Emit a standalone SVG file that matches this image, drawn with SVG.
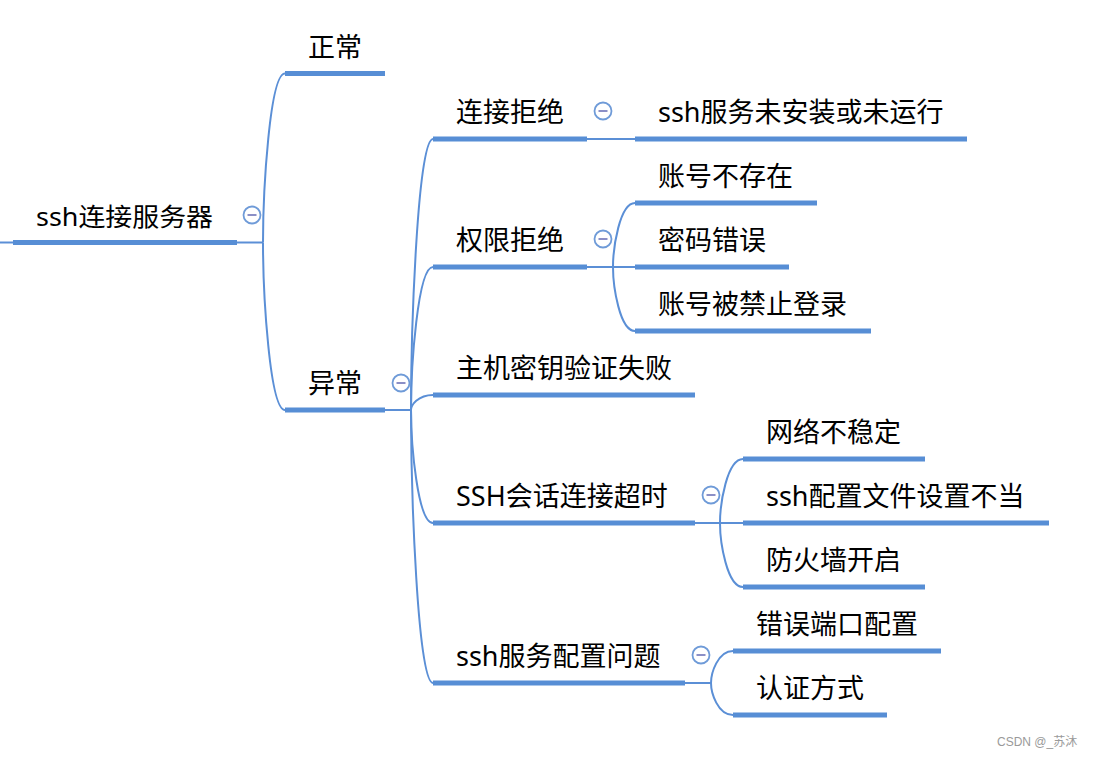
<svg xmlns="http://www.w3.org/2000/svg" width="1093" height="757" viewBox="0 0 1093 757">
<style>
.ul{stroke:#578ed5;stroke-width:5;fill:none}
.cn{stroke:#5b8fd6;stroke-width:2;fill:none}
.t{font-family:"Noto Sans","Noto Sans CJK SC",sans-serif;font-size:27px;fill:#000}
.ic circle{fill:#fff;stroke:#6f9bd8;stroke-width:1.8}
.ic line{stroke:#8b8fc6;stroke-width:2}
.wm{font-family:"Liberation Sans","Noto Sans CJK SC",sans-serif;font-size:12px;fill:#9a9a9a}
</style>
<defs>
<g id="minus" class="ic"><circle cx="0" cy="0" r="8.5"/><line x1="-4.5" y1="0" x2="4.5" y2="0"/></g>
</defs>
<rect width="1093" height="757" fill="#fff"/>
<g id="connectors">
<path class="cn" d="M0,242.5 H13"/>
<path class="cn" d="M237,242.5 H263"/>
<path class="cn" d="M263,242.5 C263,192 269.6,73.5 285,73.5"/>
<path class="cn" d="M263,242.5 C263,293 269.6,410 285,410"/>
<path class="cn" d="M385,410 H411"/>
<path class="cn" d="M411,410 C411,329 417.6,139 433,139"/>
<path class="cn" d="M411,410 C411,367 417.6,267 433,267"/>
<path class="cn" d="M411,410 C411,405.5 417.6,395 433,395"/>
<path class="cn" d="M411,410 C411,444 417.6,523 433,523"/>
<path class="cn" d="M411,410 C411,492 417.6,683 433,683"/>
<path class="cn" d="M587,139 H635"/>
<path class="cn" d="M587,267 H635"/>
<path class="cn" d="M613,267 C613,248 619.6,203 635,203"/>
<path class="cn" d="M613,267 C613,286 619.6,331 635,331"/>
<path class="cn" d="M695,523 H743"/>
<path class="cn" d="M720,523 C720,504 726.9,459 743,459"/>
<path class="cn" d="M720,523 C720,542 726.9,587 743,587"/>
<path class="cn" d="M685,683 H711"/>
<path class="cn" d="M711,683 C711,673.4 717.6,651 733,651"/>
<path class="cn" d="M711,683 C711,692.6 717.6,715 733,715"/>
</g>
<g id="root"><line class="ul" x1="13" y1="242.5" x2="237" y2="242.5"/><text class="t" x="36" y="226" textLength="177" lengthAdjust="spacingAndGlyphs" style="font-size:25px">ssh连接服务器</text><use href="#minus" x="252" y="215"/></g>
<g id="n-normal"><line class="ul" x1="285" y1="73.5" x2="385" y2="73.5"/><text class="t" x="308" y="57">正常</text></g>
<g id="n-abnormal"><line class="ul" x1="285" y1="410" x2="385" y2="410"/><text class="t" x="308" y="393">异常</text><use href="#minus" x="401" y="383"/></g>
<g id="n-refused"><line class="ul" x1="433" y1="139" x2="587" y2="139"/><text class="t" x="456" y="122">连接拒绝</text><use href="#minus" x="603" y="111"/></g>
<g id="n-notinstalled"><line class="ul" x1="635" y1="139" x2="967" y2="139"/><text class="t" x="658" y="122">ssh服务未安装或未运行</text></g>
<g id="n-denied"><line class="ul" x1="433" y1="267" x2="587" y2="267"/><text class="t" x="456" y="250">权限拒绝</text><use href="#minus" x="603" y="239"/></g>
<g id="n-noaccount"><line class="ul" x1="635" y1="203" x2="817" y2="203"/><text class="t" x="658" y="186">账号不存在</text></g>
<g id="n-badpwd"><line class="ul" x1="635" y1="267" x2="789" y2="267"/><text class="t" x="658" y="250">密码错误</text></g>
<g id="n-banned"><line class="ul" x1="635" y1="331" x2="871" y2="331"/><text class="t" x="658" y="314">账号被禁止登录</text></g>
<g id="n-hostkey"><line class="ul" x1="433" y1="395" x2="695" y2="395"/><text class="t" x="456" y="378">主机密钥验证失败</text></g>
<g id="n-timeout"><line class="ul" x1="433" y1="523" x2="695" y2="523"/><text class="t" x="456" y="506">SSH会话连接超时</text><use href="#minus" x="711" y="495"/></g>
<g id="n-network"><line class="ul" x1="743" y1="459" x2="925" y2="459"/><text class="t" x="766" y="442">网络不稳定</text></g>
<g id="n-config"><line class="ul" x1="743" y1="523" x2="1049" y2="523"/><text class="t" x="766" y="506">ssh配置文件设置不当</text></g>
<g id="n-firewall"><line class="ul" x1="743" y1="587" x2="925" y2="587"/><text class="t" x="766" y="570">防火墙开启</text></g>
<g id="n-svcconfig"><line class="ul" x1="433" y1="683" x2="685" y2="683"/><text class="t" x="456" y="666">ssh服务配置问题</text><use href="#minus" x="701" y="655"/></g>
<g id="n-port"><line class="ul" x1="733" y1="651" x2="941" y2="651"/><text class="t" x="756" y="634">错误端口配置</text></g>
<g id="n-auth"><line class="ul" x1="733" y1="715" x2="887" y2="715"/><text class="t" x="756" y="698">认证方式</text></g>
<text class="wm" x="997" y="746">CSDN @_苏沐</text>
</svg>
